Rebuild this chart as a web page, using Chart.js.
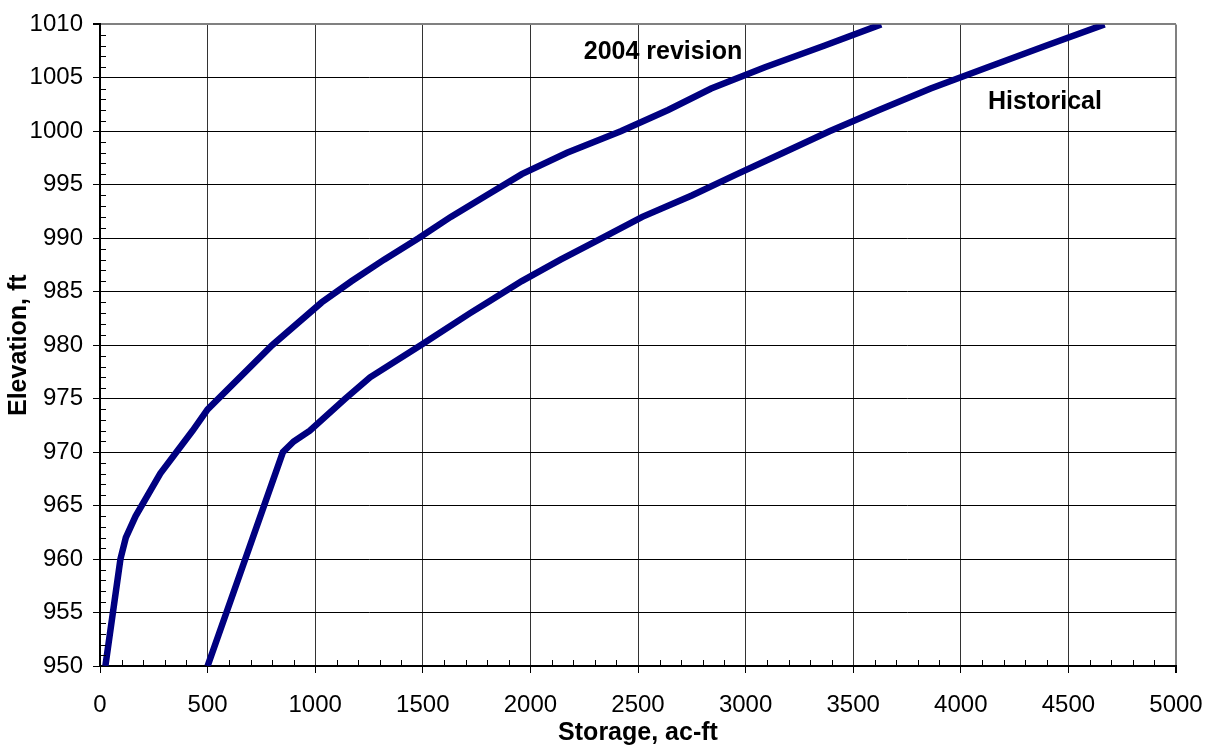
<!DOCTYPE html>
<html>
<head>
<meta charset="utf-8">
<script src="https://cdn.jsdelivr.net/npm/chart.js@4"></script>
<style>
  html, body { margin: 0; padding: 0; background: #fff; }
  #wrap { width: 1211px; height: 748px; }
</style>
</head>
<body>
<div id="wrap"><canvas id="storageChart" width="1211" height="748"></canvas></div>
<script>
// Elevation - storage curves
var rev2004Elev    = [950, 960, 962, 964, 968, 972, 974, 980, 984, 986, 988, 990, 992, 994, 996, 998, 1000, 1002, 1004, 1006, 1008, 1010];
var rev2004Storage = [25, 95, 120, 165, 280, 430, 500, 800, 1030, 1170, 1320, 1480, 1630, 1795, 1960, 2170, 2420, 2640, 2840, 3090, 3365, 3630];

var histElev    = [950, 970, 971, 972, 975, 977, 980, 983, 984, 986, 988, 990, 992, 994, 996, 998, 1000, 1002, 1004, 1006, 1008, 1010];
var histStorage = [500, 850, 900, 975, 1140, 1255, 1490, 1720, 1800, 1960, 2140, 2330, 2520, 2750, 2960, 3175, 3390, 3620, 3860, 4125, 4395, 4668];

var seriesNames = ['2004 revision', 'Historical'];
var xTicks = [0, 500, 1000, 1500, 2000, 2500, 3000, 3500, 4000, 4500, 5000];
var yTicks = [950, 955, 960, 965, 970, 975, 980, 985, 990, 995, 1000, 1005, 1010];

// where the curve names sit, in data units
var labelPos = [[2616, 1007.4], [4391, 1002.7]];

function toPoints(xs, ys)
{
    var pts = [];
    for (var i = 0; i < xs.length; i++)
    {
        pts.push({ x: xs[i], y: ys[i] });
    }
    return pts;
}

// Minor ticks + curve names
var extras = {
    id: 'extras',
    afterDraw: function (chart)
    {
        var ctx = chart.ctx;
        var xs = chart.scales.x;
        var ys = chart.scales.y;
        var area = chart.chartArea;

        ctx.save();
        ctx.strokeStyle = '#000';
        ctx.lineWidth = 1;
        ctx.beginPath();
        for (var v = 951; v < 1010; v++)
        {
            if (v % 5 === 0) continue;
            var py = Math.round(ys.getPixelForValue(v)) + 0.5;
            ctx.moveTo(area.left, py);
            ctx.lineTo(area.left + 6, py);
        }
        for (var s = 100; s < 5000; s += 100)
        {
            if (s % 500 === 0) continue;
            var px = Math.round(xs.getPixelForValue(s)) + 0.5;
            ctx.moveTo(px, area.bottom);
            ctx.lineTo(px, area.bottom - 6);
        }
        ctx.stroke();

        ctx.fillStyle = '#000';
        ctx.font = 'bold 25px "Liberation Sans", Arial, sans-serif';
        ctx.textAlign = 'center';
        ctx.textBaseline = 'middle';
        for (var i = 0; i < seriesNames.length; i++)
        {
            ctx.fillText(seriesNames[i], xs.getPixelForValue(labelPos[i][0]), ys.getPixelForValue(labelPos[i][1]));
        }
        ctx.restore();
    }
};

var ctx = document.getElementById('storageChart').getContext('2d');
var myChart = new Chart(ctx,
{
    type: 'scatter',
    data:
    {
        datasets: [
        {
            label: seriesNames[0],
            data: toPoints(rev2004Storage, rev2004Elev),
            showLine: true,
            borderColor: '#000080',
            backgroundColor: '#000080',
            borderWidth: 6.5,
            pointRadius: 0
        },
        {
            label: seriesNames[1],
            data: toPoints(histStorage, histElev),
            showLine: true,
            borderColor: '#000080',
            backgroundColor: '#000080',
            borderWidth: 6.5,
            pointRadius: 0
        }]
    },
    options:
    {
        responsive: false,
        animation: false,
        layout: { padding: { top: 22, right: 35, left: 0, bottom: 0 } },
        plugins:
        {
            legend: { display: false },
            tooltip: { enabled: false }
        },
        scales:
        {
            x:
            {
                type: 'linear',
                min: 0,
                max: 5000,
                afterBuildTicks: function (scale)
                {
                    scale.ticks = xTicks.map(function (v) { return { value: v }; });
                },
                afterFit: function (scale)
                {
                    scale.height = 82;
                    scale.paddingLeft = 0;
                    scale.paddingRight = 0;
                },
                ticks:
                {
                    color: '#000',
                    font: { family: '"Liberation Sans", Arial, sans-serif', size: 24 },
                    padding: 18,
                    maxRotation: 0,
                    autoSkip: false,
                    callback: function (v) { return String(v); }
                },
                grid:
                {
                    color: function (c) { return c.tick && c.tick.value === 5000 ? '#808080' : '#333'; },
                    lineWidth: function (c) { return c.tick && c.tick.value === 5000 ? 2 : 1; },
                    tickColor: '#000',
                    tickLength: 7
                },
                border: { color: '#000', width: 2 },
                title:
                {
                    display: true,
                    text: 'Storage, ac-ft',
                    color: '#000',
                    font: { family: '"Liberation Sans", Arial, sans-serif', size: 25, weight: 'bold' },
                    padding: { top: 0, bottom: 0 }
                }
            },
            y:
            {
                type: 'linear',
                min: 950,
                max: 1010,
                afterBuildTicks: function (scale)
                {
                    scale.ticks = yTicks.map(function (v) { return { value: v }; });
                },
                afterFit: function (scale) { scale.width = 100; },
                ticks:
                {
                    color: '#000',
                    font: { family: '"Liberation Sans", Arial, sans-serif', size: 24 },
                    padding: 10,
                    autoSkip: false,
                    callback: function (v) { return String(v); }
                },
                grid:
                {
                    color: function (c) { return c.tick && c.tick.value === 1010 ? '#808080' : '#000'; },
                    lineWidth: function (c) { return c.tick && c.tick.value === 1010 ? 2 : 1; },
                    tickColor: '#000',
                    tickLength: 7
                },
                border: { color: '#000', width: 2 },
                title:
                {
                    display: true,
                    text: 'Elevation, ft',
                    color: '#000',
                    font: { family: '"Liberation Sans", Arial, sans-serif', size: 25, weight: 'bold' },
                    padding: { top: 4, bottom: 0 }
                }
            }
        }
    },
    plugins: [extras]
});
</script>
</body>
</html>
